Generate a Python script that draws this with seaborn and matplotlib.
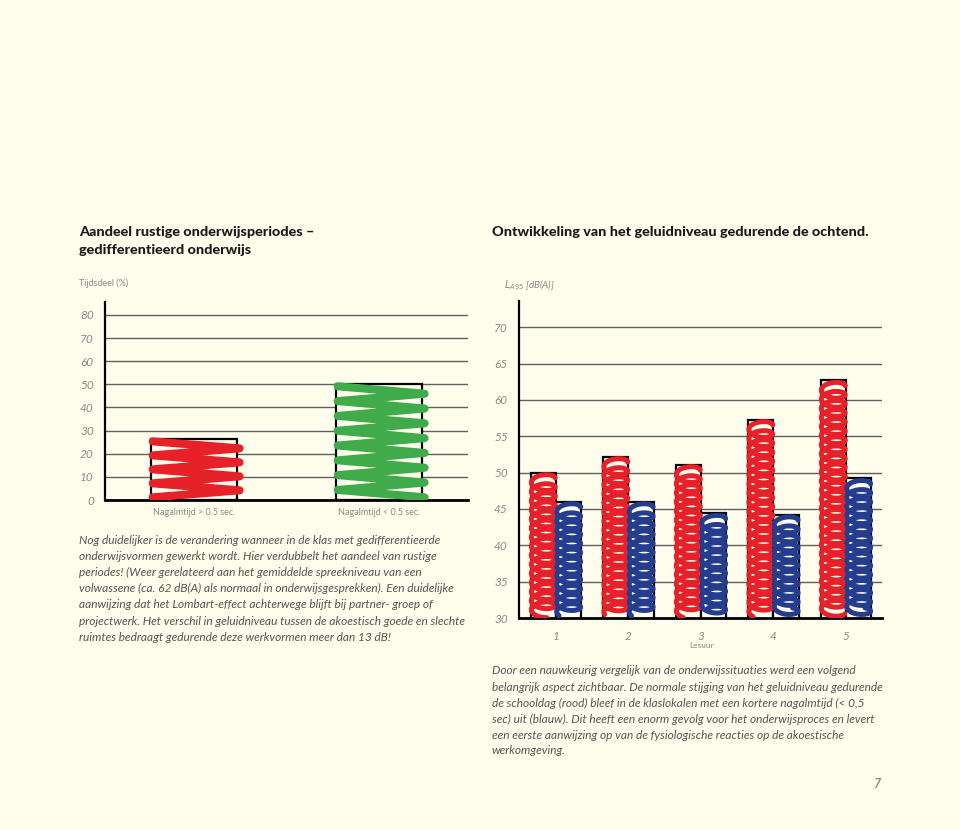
import matplotlib
matplotlib.use("Agg")
import matplotlib.pyplot as plt
import numpy as np
import pandas as pd
import seaborn as sns

# data
left_cats = ["Nagalmtijd > 0.5 sec.", "Nagalmtijd < 0.5 sec."]
left_vals = [26.5, 50.3]
left_ticks = [0, 10, 20, 30, 40, 50, 60, 70, 80]

lesuur = ["1", "2", "3", "4", "5"]
rood = [50.0, 52.2, 51.1, 57.3, 62.7]
blauw = [46.0, 46.0, 44.4, 44.2, 49.2]
right_ticks = [30, 35, 40, 45, 50, 55, 60, 65, 70]

bg = "#fffdec"
red = "#e62129"
green = "#3fab4a"
blue = "#243d8f"
gray = "#8a8a8a"
text_gray = "#555555"

sns.set_style("white")
plt.rcParams["font.family"] = ["Lato", "DejaVu Sans"]

W, H = 960, 830
fig = plt.figure(figsize=(9.6, 8.3), dpi=100, facecolor=bg)


def px(x, y):
    return x / W, 1 - y / H


def zigzag(ax, patch, color, step, lw, ymin):
    # scribble fill: near-horizontal strokes going back and forth
    x0, w = patch.get_x(), patch.get_width()
    top = patch.get_y() + patch.get_height()
    bot = max(patch.get_y(), ymin)
    n = int((top - bot) / step)
    ys = np.linspace(top - step * 0.35, bot + step * 0.35, n + 1)
    xs = [x0 + 0.02 * w if i % 2 == 0 else x0 + 1.03 * w for i in range(n + 1)]
    ax.plot(xs, ys, color=color, lw=lw, solid_capstyle="round",
            solid_joinstyle="round", zorder=3)


def coil(ax, patch, color, step, amp, lw, ymin):
    # scribble fill: looping spring
    x0, w = patch.get_x(), patch.get_width()
    top = patch.get_y() + patch.get_height()
    bot = max(patch.get_y(), ymin)
    turns = (top - bot - 2 * amp) / step
    t = np.linspace(0, 2 * np.pi * turns, int(turns * 60) + 2)
    xs = x0 + w / 2 + 0.47 * w * np.cos(t)
    ys = top - amp - step * t / (2 * np.pi) + amp * np.sin(t)
    ax.plot(xs, ys, color=color, lw=lw, solid_capstyle="round",
            solid_joinstyle="round", zorder=3)


def style_axis(ax):
    ax.set_facecolor(bg)
    ax.set_axisbelow(True)
    ax.yaxis.grid(True, color="#5f5f5f", lw=1)
    ax.xaxis.grid(False)
    for s in ["top", "right"]:
        ax.spines[s].set_visible(False)
    ax.spines["left"].set_color("black")
    ax.spines["left"].set_linewidth(1.6)
    ax.spines["bottom"].set_color("black")
    ax.spines["bottom"].set_linewidth(2)
    ax.tick_params(axis="y", length=4, width=1, color="black", pad=4)
    ax.tick_params(axis="x", length=0)
    ax.set_xlabel("")
    ax.set_ylabel("")


# left chart
ax1 = fig.add_axes([105 / W, 1 - 500 / H, 363 / W, 198 / H])
sns.barplot(x=left_cats, y=left_vals, hue=left_cats, palette=[red, green],
            saturation=1, width=0.465, legend=False, ax=ax1)
style_axis(ax1)
ax1.set_xlim(-0.481, 1.481)
ax1.set_ylim(0, 85.6)
ax1.set_yticks(left_ticks)
ax1.set_yticklabels([str(v) for v in left_ticks], fontsize=8.5, style="italic",
                    color=gray)
for lab in ax1.get_xticklabels():
    lab.set_fontsize(6.5)
    lab.set_color(gray)
ax1.tick_params(axis="x", pad=6)
for p in list(ax1.patches):
    c = p.get_facecolor()
    p.set_facecolor(bg)
    p.set_edgecolor("black")
    p.set_linewidth(1.6)
    p.set_zorder(2)
    zigzag(ax1, p, c, 3.3, 5.8, 0)

# right chart
df = pd.DataFrame({
    "lesuur": lesuur * 2,
    "niveau": rood + blauw,
    "groep": ["rood"] * 5 + ["blauw"] * 5,
})
ax2 = fig.add_axes([519 / W, 1 - 618 / H, 363 / W, 317 / H])
sns.barplot(data=df, x="lesuur", y="niveau", hue="groep",
            palette={"rood": red, "blauw": blue}, saturation=1, width=0.7,
            gap=0, legend=False, ax=ax2)
style_axis(ax2)
ax2.set_xlim(-0.51, 4.497)
ax2.set_ylim(30, 73.6)
ax2.set_yticks(right_ticks)
ax2.set_yticklabels([str(v) for v in right_ticks], fontsize=8.5, style="italic",
                    color=gray)
ax2.set_xticks(range(len(lesuur)))
ax2.set_xticklabels(lesuur, fontsize=8.5, style="italic", color=gray)
ax2.tick_params(axis="x", pad=9)
for p in list(ax2.patches):
    c = p.get_facecolor()
    p.set_facecolor(bg)
    p.set_edgecolor("black")
    p.set_linewidth(1.6)
    p.set_zorder(2)
    coil(ax2, p, c, 1.25, 0.75, 3.6, 30)

# titles and labels
title_kw = dict(fontsize=10.4, fontweight="black", color="#1a1a1a", va="center")
fig.text(*px(79, 232), "Aandeel rustige onderwijsperiodes \u2013", **title_kw)
fig.text(*px(79, 250), "gedifferentieerd onderwijs", **title_kw)
fig.text(*px(492, 232), "Ontwikkeling van het geluidniveau gedurende de ochtend.",
         **title_kw)
fig.text(*px(79, 283), "Tijdsdeel (%)", fontsize=6.5, color=gray, va="center")
fig.text(*px(504, 285), "$L_{A95}$ [dB(A)]", fontsize=7, color=gray,
         style="italic", va="center")
fig.text(*px(702, 645), "Lesuur", fontsize=6, color=gray, va="center",
         ha="center")

left_text = [
    "Nog duidelijker is de verandering wanneer in de klas met gedifferentieerde",
    "onderwijsvormen gewerkt wordt. Hier verdubbelt het aandeel van rustige",
    "periodes! (Weer gerelateerd aan het gemiddelde spreekniveau van een",
    "volwassene (ca. 62 dB(A) als normaal in onderwijsgesprekken). Een duidelijke",
    "aanwijzing dat het Lombart-effect achterwege blijft bij partner- groep of",
    "projectwerk. Het verschil in geluidniveau tussen de akoestisch goede en slechte",
    "ruimtes bedraagt gedurende deze werkvormen meer dan 13 dB!",
]
right_text = [
    "Door een nauwkeurig vergelijk van de onderwijssituaties werd een volgend",
    "belangrijk aspect zichtbaar. De normale stijging van het geluidniveau gedurende",
    "de schooldag (rood) bleef in de klaslokalen met een kortere nagalmtijd (< 0,5",
    "sec) uit (blauw). Dit heeft een enorm gevolg voor het onderwijsproces en levert",
    "een eerste aanwijzing op van de fysiologische reacties op de akoestische",
    "werkomgeving.",
]
for i, line in enumerate(left_text):
    fig.text(*px(79, 540 + i * 16.2), line, fontsize=8.6, style="italic",
             color=text_gray, va="center")
for i, line in enumerate(right_text):
    fig.text(*px(492, 671 + i * 16.0), line, fontsize=8.6, style="italic",
             color=text_gray, va="center")

fig.text(*px(877, 784), "7", fontsize=9, fontweight="bold", style="italic",
         color=gray, va="center", ha="center")

fig.savefig("out.png", dpi=100, facecolor=bg)
